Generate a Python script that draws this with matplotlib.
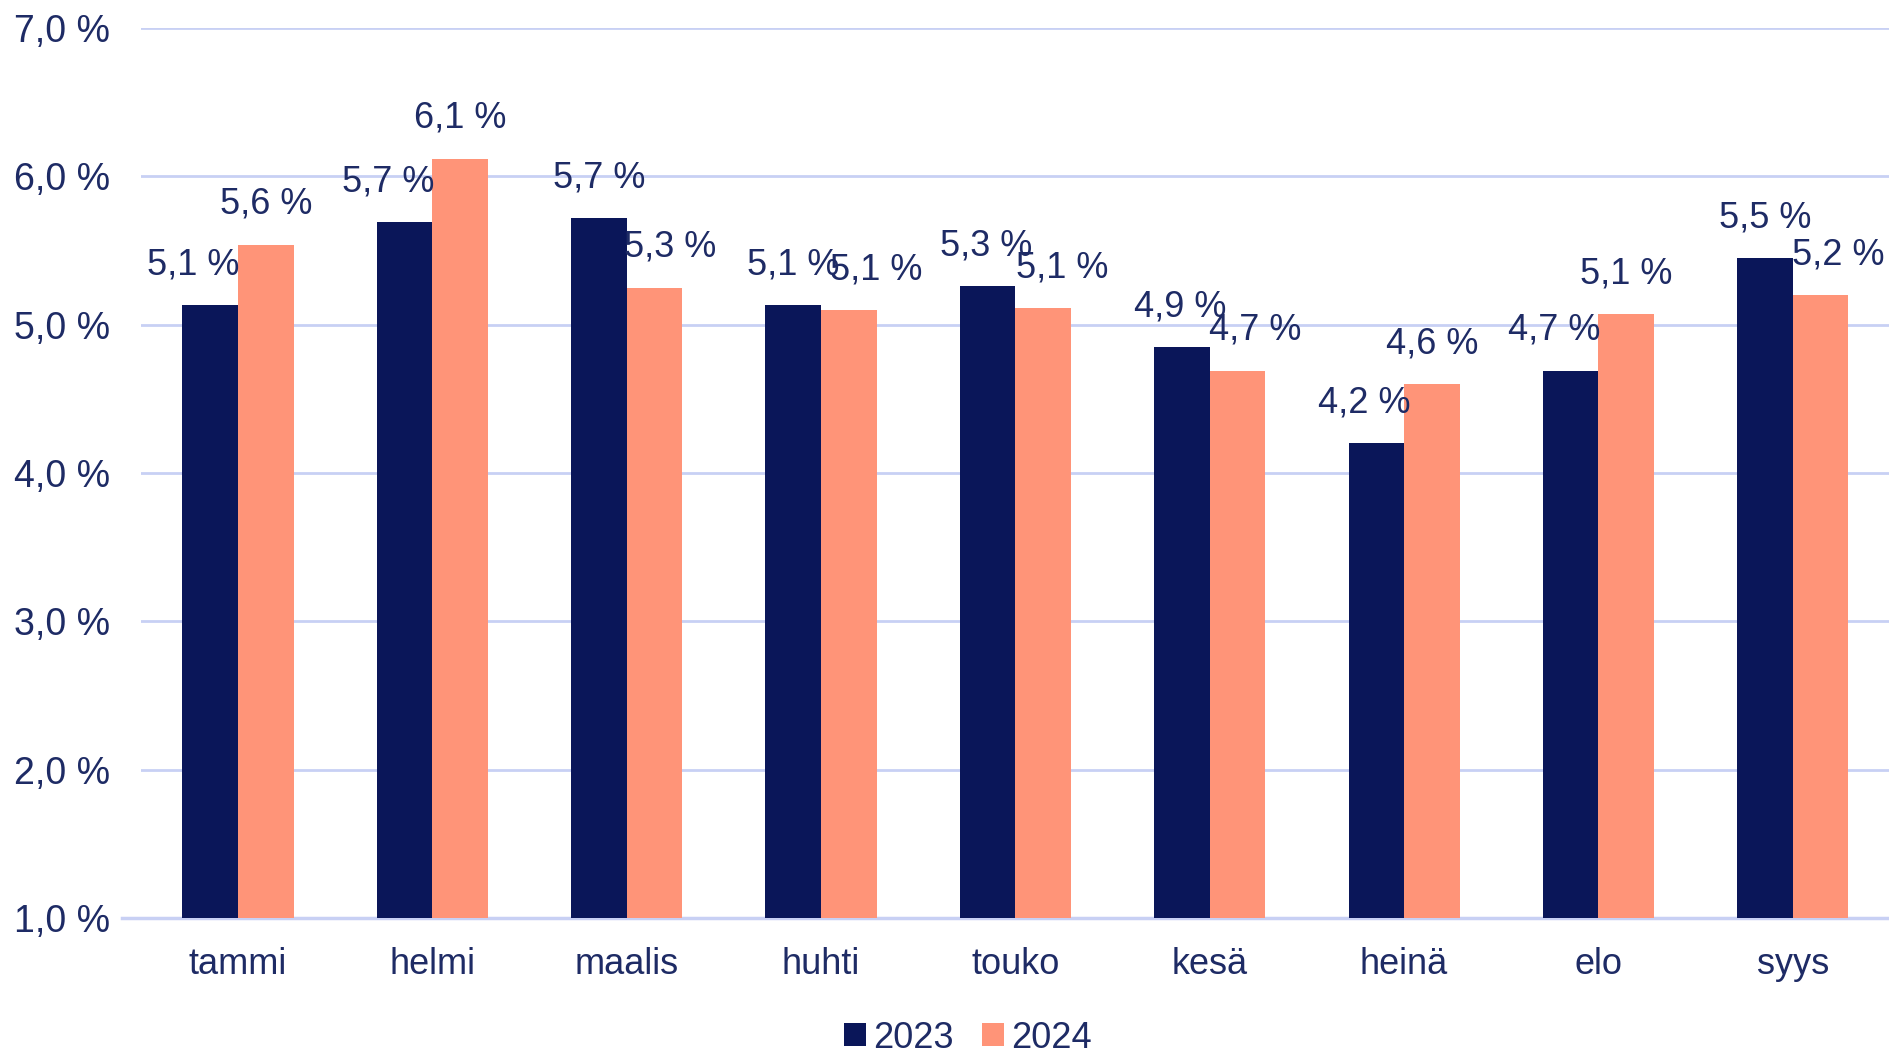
import matplotlib
matplotlib.use("Agg")
import matplotlib.pyplot as plt
import numpy as np

months = ["tammi", "helmi", "maalis", "huhti", "touko", "kesä", "heinä", "elo", "syys"]
values_2023 = [5.13, 5.69, 5.72, 5.13, 5.26, 4.85, 4.20, 4.69, 5.45]
values_2024 = [5.54, 6.12, 5.25, 5.10, 5.11, 4.69, 4.60, 5.07, 5.20]
labels_2023 = ["5,1 %", "5,7 %", "5,7 %", "5,1 %", "5,3 %", "4,9 %", "4,2 %", "4,7 %", "5,5 %"]
labels_2024 = ["5,6 %", "6,1 %", "5,3 %", "5,1 %", "5,1 %", "4,7 %", "4,6 %", "5,1 %", "5,2 %"]
yticks = [1, 2, 3, 4, 5, 6, 7]

# label nudges (points), as in the original manually placed labels
dx_2023 = [-12, -12, 0, 0, -1, -1, -9, -12, 0]
dx_2024 = [0, 0, 11, 20, 14, 13, 0, 0, 13]

navy = "#0A1659"
salmon = "#FF9478"
text_col = "#1E2B65"
grid_col = "#C8D0F4"

plt.rcParams["font.family"] = ["Liberation Sans", "DejaVu Sans"]
fs = 26

fig = plt.figure(figsize=(18.9, 10.56), dpi=100)
ax = fig.add_axes([0.0745, 0.1307, 0.9255, 0.8428])

x = np.arange(len(months))
w = 0.286
b1 = ax.bar(x - w / 2, np.array(values_2023) - 1, w, bottom=1, color=navy, label="2023", zorder=3)
b2 = ax.bar(x + w / 2, np.array(values_2024) - 1, w, bottom=1, color=salmon, label="2024", zorder=3)

for i in range(len(months)):
    ax.annotate(labels_2023[i], (x[i] - w / 2, values_2023[i]), xytext=(dx_2023[i], 29),
                textcoords="offset points", ha="center", va="center", fontsize=fs, color=text_col, zorder=4)
    ax.annotate(labels_2024[i], (x[i] + w / 2, values_2024[i]), xytext=(dx_2024[i], 29),
                textcoords="offset points", ha="center", va="center", fontsize=fs, color=text_col, zorder=4)

ax.set_xlim(-0.5, len(months) - 0.5)
ax.set_ylim(1, 7)
ax.set_yticks(yticks)
ax.set_yticklabels(["{:.1f} %".format(v).replace(".", ",") for v in yticks])
ax.set_xticks(x)
ax.set_xticklabels(months)
ax.yaxis.grid(True, color=grid_col, linewidth=2, zorder=0)
ax.set_axisbelow(True)
for s in ax.spines.values():
    s.set_visible(False)
ax.plot([-0.011, 1], [0, 0], transform=ax.transAxes, color=grid_col, linewidth=2.5, clip_on=False, zorder=2)
ax.tick_params(axis="both", length=0, labelsize=fs, labelcolor=text_col)
ax.tick_params(axis="y", pad=22, labelsize=27)
ax.tick_params(axis="x", pad=21)

fig.legend(handles=[b1, b2], loc="center", bbox_to_anchor=(968 / 1890, 1 - 1038 / 1056), ncol=2,
           frameon=False, fontsize=fs, handlelength=0.6, handleheight=0.6, handletextpad=0.2,
           columnspacing=0.8, labelcolor=text_col)

fig.savefig("out.png", dpi=100, facecolor="white")
